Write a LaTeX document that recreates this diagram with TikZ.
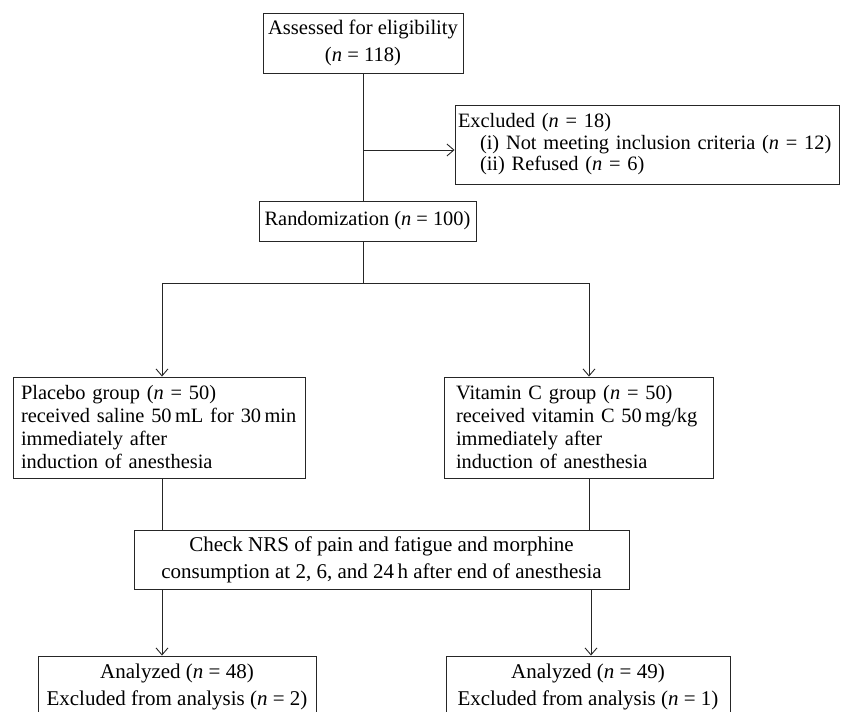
\documentclass[tikz,border=0pt]{standalone}
\usepackage{fontspec}
\setmainfont{Liberation Serif}
\usetikzlibrary{arrows.meta}
\begin{document}
\begin{tikzpicture}[x=1pt,y=-1pt,
  box/.style={draw=black!85,line width=0.9pt,inner sep=0pt,font=\fontsize{20.4}{23}\selectfont},
  conn/.style={draw=black!85,line width=0.9pt},
  arr/.style={conn,-{Straight Barb[length=7pt,width=12pt,line width=0.9pt]}}]
\clip (0,0) rectangle (841,712);
\useasboundingbox (0,0) rectangle (841,712);
\newcommand{\nn}{\textit{n}}
\node[box,minimum width=200pt,minimum height=60pt,align=center,font=\fontsize{20.6}{27}\selectfont] (assess) at (363,43)
  {Assessed for eligibility\\(\nn{} = 118)};
\node[box,minimum width=384pt,minimum height=79pt,text width=378pt,align=left,font=\fontsize{20.4}{21.5}\selectfont] (excl) at (647,144.5)
  {Excluded (\nn{} = 18)\\\hspace*{22pt}(i) Not meeting inclusion criteria (\nn{} = 12)\\\hspace*{22pt}(ii) Refused (\nn{} = 6)};
\node[box,minimum width=217pt,minimum height=40pt] (rand) at (367.5,221) {Randomization (\nn{} = 100)};
\node[box,minimum width=292pt,minimum height=101pt,text width=276pt,align=left] (plac) at (159,427.5)
  {Placebo group (\nn{} = 50)\\received saline 50\,mL for 30\,min\\immediately after\\induction of anesthesia};
\node[box,minimum width=269pt,minimum height=101pt,text width=245pt,align=left] (vitc) at (578.5,427.5)
  {Vitamin C group (\nn{} = 50)\\received vitamin C 50\,mg/kg\\immediately after\\induction of anesthesia};
\node[box,minimum width=495pt,minimum height=59pt,align=center,font=\fontsize{21}{27}\selectfont] (check) at (381.5,559.5)
  {Check NRS of pain and fatigue and morphine\\consumption at 2, 6, and 24\,h after end of anesthesia};
\node[box,minimum width=278pt,minimum height=62pt,align=center,font=\fontsize{21}{27}\selectfont] (an1) at (177,687)
  {Analyzed (\nn{} = 48)\\Excluded from analysis (\nn{} = 2)};
\node[box,minimum width=284pt,minimum height=62pt,align=center,font=\fontsize{21}{27}\selectfont] (an2) at (588,687)
  {Analyzed (\nn{} = 49)\\Excluded from analysis (\nn{} = 1)};
% connectors
\coordinate (tr) at (363,73);
\coordinate (ex) at (363,150);
\coordinate (rj) at (363,283);
\draw[conn] (assess.south -| tr) -- (rand.north -| tr);
\draw[arr] (ex) -- (excl.west |- ex);
\draw[conn] (rand.south -| rj) -- (rj);
\coordinate (lj) at (162,283);
\coordinate (rjj) at (589,283);
\draw[conn] (lj) -- (rjj);
\draw[arr] (lj) -- (plac.north -| lj);
\draw[arr] (rjj) -- (vitc.north -| rjj);
\draw[conn] (plac.south -| lj) -- (check.north -| lj);
\draw[conn] (vitc.south -| rjj) -- (check.north -| rjj);
\coordinate (bl) at (162,600);
\coordinate (br) at (591,600);
\draw[arr] (check.south -| bl) -- (an1.north -| bl);
\draw[arr] (check.south -| br) -- (an2.north -| br);
\end{tikzpicture}
\end{document}
